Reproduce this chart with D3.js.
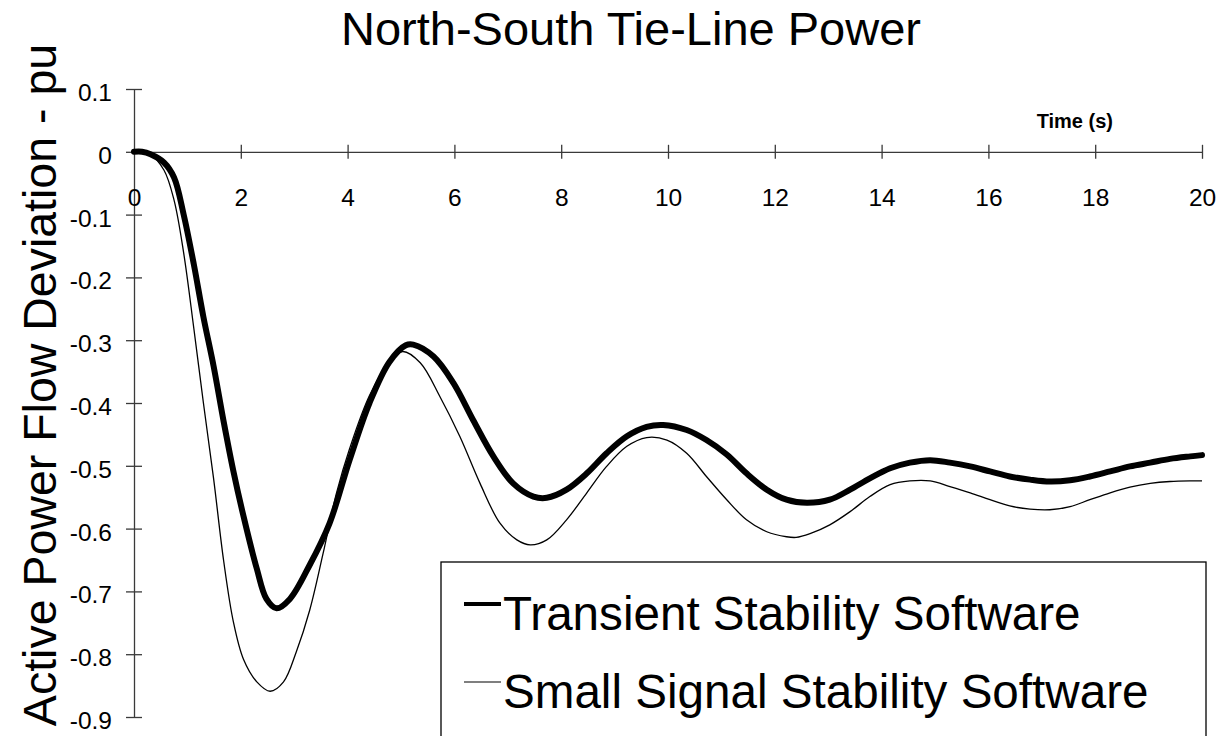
<!DOCTYPE html>
<html>
<head>
<meta charset="utf-8">
<script src="https://cdn.jsdelivr.net/npm/d3@7/dist/d3.min.js"></script>
<style>
  html, body { margin: 0; padding: 0; background: #fff; }
  svg { display: block; font-family: "Liberation Sans", Arial, sans-serif; }
</style>
</head>
<body>
<svg id="chart" width="1219" height="736"></svg>
<script>
// Tie-line power deviation after a disturbance, two simulation tools
const chartTitle = "North-South Tie-Line Power";
const yAxisTitle = "Active Power Flow Deviation - pu";
const xAxisTitle = "Time (s)";
const seriesNames = ["Transient Stability Software", "Small Signal Stability Software"];

const xTickValues = [0, 2, 4, 6, 8, 10, 12, 14, 16, 18, 20];
const xTickLabels = ["0", "2", "4", "6", "8", "10", "12", "14", "16", "18", "20"];
const yTickValues = [0.1, 0, -0.1, -0.2, -0.3, -0.4, -0.5, -0.6, -0.7, -0.8, -0.9];
const yTickLabels = ["0.1", "0", "-0.1", "-0.2", "-0.3", "-0.4", "-0.5", "-0.6", "-0.7", "-0.8", "-0.9"];

// Transient stability simulation (time in s, deviation in pu)
const transientTime = [0, 0.15, 0.31, 0.56, 0.75, 0.93, 1.12, 1.30, 1.49, 1.68, 1.86, 2.05, 2.30, 2.48, 2.67,
  2.92, 3.29, 3.66, 4.04, 4.41, 4.78, 5.09, 5.23, 5.61, 5.98, 6.35, 6.73, 7.10, 7.48, 7.73, 8.10, 8.48,
  8.85, 9.23, 9.60, 9.91, 10.35, 10.72, 11.10, 11.47, 11.85, 12.22, 12.60, 13.03, 13.41, 13.78, 14.16,
  14.53, 14.91, 15.28, 15.66, 16.03, 16.40, 16.78, 17.15, 17.53, 17.90, 18.28, 18.65, 19.03, 19.40,
  19.78, 20.0];
const transientPu = [0, 0, -0.004, -0.017, -0.041, -0.100, -0.179, -0.263, -0.341, -0.430, -0.508, -0.580,
  -0.664, -0.712, -0.727, -0.712, -0.658, -0.592, -0.490, -0.400, -0.335, -0.308, -0.307, -0.326, -0.368,
  -0.427, -0.485, -0.528, -0.549, -0.551, -0.538, -0.512, -0.480, -0.453, -0.438, -0.435, -0.443, -0.459,
  -0.482, -0.512, -0.538, -0.554, -0.559, -0.554, -0.538, -0.520, -0.504, -0.495, -0.491, -0.495, -0.501,
  -0.509, -0.517, -0.522, -0.525, -0.523, -0.517, -0.509, -0.501, -0.495, -0.489, -0.485, -0.483];

// Small signal (linearised) model response
const smallSignalTime = [0, 0.31, 0.56, 0.75, 0.93, 1.12, 1.30, 1.49, 1.68, 1.86, 2.05, 2.30, 2.55, 2.80,
  3.04, 3.29, 3.54, 3.79, 4.04, 4.41, 4.78, 5.03, 5.36, 5.73, 6.10, 6.48, 6.85, 7.17, 7.42, 7.73, 8.10,
  8.48, 8.85, 9.23, 9.60, 9.98, 10.35, 10.72, 11.10, 11.47, 11.85, 12.22, 12.40, 12.66, 13.03, 13.41,
  13.78, 14.16, 14.53, 14.91, 15.28, 15.66, 16.03, 16.40, 16.78, 17.15, 17.53, 17.90, 18.28, 18.65,
  19.03, 19.40, 19.78, 20.0];
const smallSignalPu = [0, -0.005, -0.029, -0.077, -0.161, -0.281, -0.400, -0.520, -0.652, -0.748, -0.808,
  -0.844, -0.859, -0.844, -0.796, -0.730, -0.640, -0.544, -0.472, -0.388, -0.335, -0.318, -0.336, -0.390,
  -0.453, -0.528, -0.591, -0.618, -0.626, -0.618, -0.586, -0.543, -0.501, -0.469, -0.455, -0.459, -0.480,
  -0.517, -0.554, -0.586, -0.605, -0.613, -0.614, -0.608, -0.594, -0.573, -0.549, -0.530, -0.524, -0.524,
  -0.533, -0.543, -0.554, -0.564, -0.569, -0.570, -0.565, -0.554, -0.543, -0.534, -0.528, -0.525, -0.524,
  -0.524];

const svg = d3.select("#chart");
const axisColor = "#3a3a3a";

const x = d3.scaleLinear().domain([0, 20]).range([134, 1202]);
const y = d3.scaleLinear().domain([-0.9, 0.1]).range([717, 89]);

// Title
svg.append("text")
  .attr("x", 631).attr("y", 45)
  .attr("text-anchor", "middle")
  .attr("font-size", 47)
  .attr("fill", "#000")
  .text(chartTitle);

// Vertical axis title
svg.append("text")
  .attr("transform", "translate(56,385) rotate(-90)")
  .attr("text-anchor", "middle")
  .attr("font-size", 46.5)
  .attr("fill", "#000")
  .text(yAxisTitle);

// Y axis along t = 0, ticks crossing the line
const yAxis = d3.axisLeft(y)
  .tickValues(yTickValues)
  .tickFormat((d, i) => yTickLabels[i])
  .tickSizeOuter(0);
const gy = svg.append("g").attr("transform", `translate(${x(0)},0)`).call(yAxis);
gy.select(".domain").attr("stroke", axisColor).attr("stroke-width", 1.3);
gy.selectAll(".tick line").attr("x1", -8).attr("x2", 8).attr("stroke", axisColor).attr("stroke-width", 1.3);
gy.selectAll(".tick text")
  .attr("x", -22).attr("dy", "0.35em")
  .attr("transform", "translate(0,3)")
  .attr("font-size", 24.5)
  .attr("font-family", "Liberation Sans, Arial, sans-serif")
  .attr("fill", "#000");

// X axis along 0 pu, labels hanging below
const xAxis = d3.axisBottom(x)
  .tickValues(xTickValues)
  .tickFormat((d, i) => xTickLabels[i])
  .tickSizeOuter(0);
const gx = svg.append("g").attr("transform", `translate(0,${y(0)})`).call(xAxis);
gx.select(".domain").attr("stroke", axisColor).attr("stroke-width", 1.3);
gx.selectAll(".tick line")
  .attr("y1", -7).attr("y2", 7)
  .attr("stroke", axisColor).attr("stroke-width", 1.3)
  .attr("display", d => d === 0 ? "none" : null);
gx.selectAll(".tick text")
  .attr("y", 54).attr("dy", 0)
  .attr("font-size", 24.5)
  .attr("font-family", "Liberation Sans, Arial, sans-serif")
  .attr("fill", "#000");

// Horizontal axis title, above the axis at the right
svg.append("text")
  .attr("x", 1113).attr("y", 128)
  .attr("text-anchor", "end")
  .attr("font-size", 20)
  .attr("font-weight", "bold")
  .attr("fill", "#000")
  .text(xAxisTitle);

// Curves
const line = d3.line()
  .x(d => x(d[0]))
  .y(d => y(d[1]))
  .curve(d3.curveCatmullRom.alpha(0.5));

const smallSignal = smallSignalTime.map((t, i) => [t, smallSignalPu[i]]);
const transient = transientTime.map((t, i) => [t, transientPu[i]]);

svg.append("path")
  .datum(smallSignal)
  .attr("d", line)
  .attr("fill", "none")
  .attr("stroke", "#000")
  .attr("stroke-width", 1.3);

svg.append("path")
  .datum(transient)
  .attr("d", line)
  .attr("fill", "none")
  .attr("stroke", "#000")
  .attr("stroke-width", 6)
  .attr("stroke-linejoin", "round")
  .attr("stroke-linecap", "round");

// Legend
const legend = svg.append("g");
legend.append("rect")
  .attr("x", 441).attr("y", 562)
  .attr("width", 765).attr("height", 220)
  .attr("fill", "#fff")
  .attr("stroke", "#000")
  .attr("stroke-width", 1.3);

const legendRows = [
  { name: seriesNames[0], width: 4, lineY: 604, textY: 630 },
  { name: seriesNames[1], width: 1.2, lineY: 682, textY: 708 }
];
legendRows.forEach(r => {
  legend.append("line")
    .attr("x1", 464).attr("x2", 501)
    .attr("y1", r.lineY).attr("y2", r.lineY)
    .attr("stroke", "#000").attr("stroke-width", r.width);
  legend.append("text")
    .attr("x", 503).attr("y", r.textY)
    .attr("font-size", 47.6)
    .attr("fill", "#000")
    .text(r.name);
});
</script>
</body>
</html>
